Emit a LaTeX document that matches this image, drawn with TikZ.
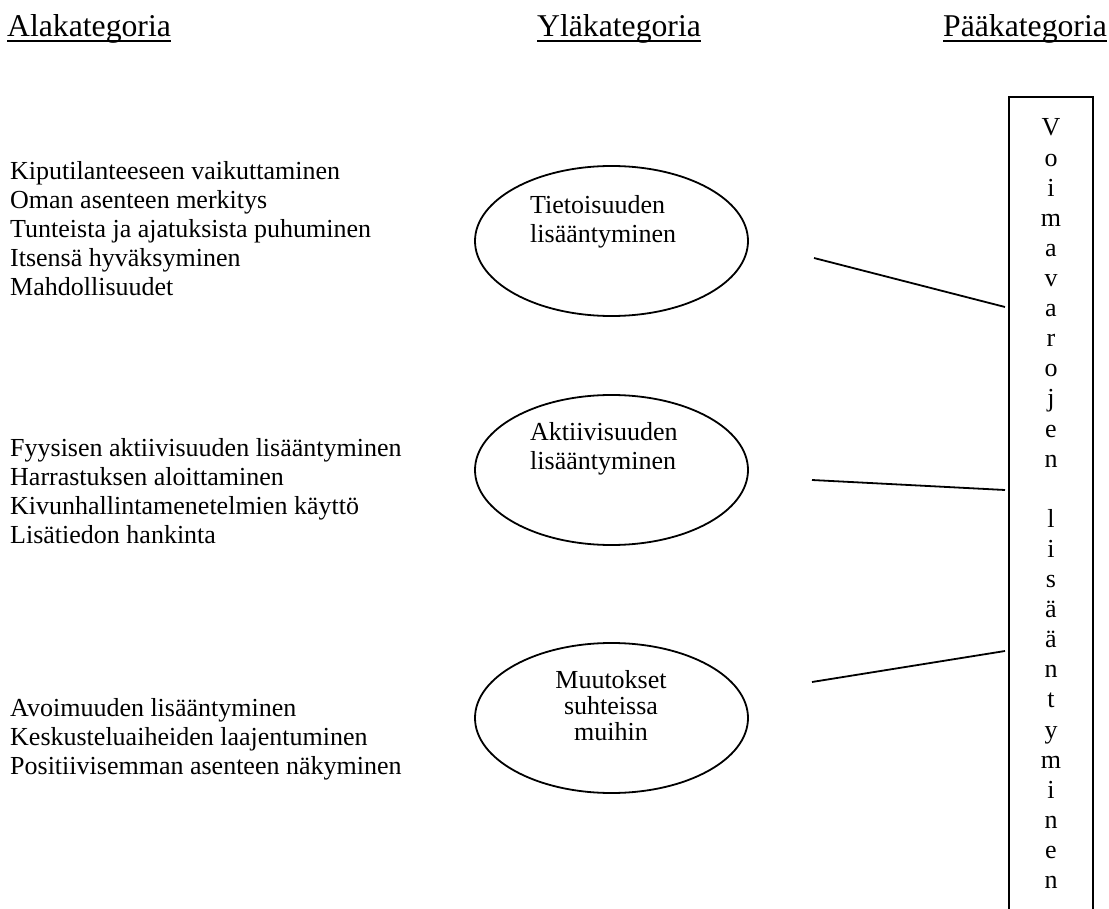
\documentclass[tikz,border=0pt]{standalone}
\usepackage{fontspec}
\setmainfont{Liberation Serif}
\usetikzlibrary{shapes.geometric}

\begin{document}
\begin{tikzpicture}[x=1pt,y=-1pt,
		txt/.style={inner sep=0pt, anchor=base west},
		category/.style={draw, ellipse, line width=1.8pt, minimum width=273pt, minimum height=150pt, inner sep=0pt},
		catline/.style={line width=1.8pt}]
		\newcommand{\myfontheader}[1]{%
			\fontsize{31.7}{36}\selectfont{#1}%
		}\newcommand{\myfonttext}[1]{%
			\fontsize{26}{29}\selectfont{#1}%
		}%Page frame
		\useasboundingbox (0,0) rectangle (1109,909);
		%Headers with their underlines
		\node [txt] (ala) at (7,37) {\myfontheader{Alakategoria}};
		\node [txt] (yla) at (537,37) {\myfontheader{Yläkategoria}};
		\node [txt] (paa) at (943,37) {\myfontheader{Pääkategoria}};
		\draw [line width=1.6pt] ([yshift=-4pt]ala.base west) -- ([yshift=-4pt]ala.base east);
		\draw [line width=1.6pt] ([yshift=-4pt]yla.base west) -- ([yshift=-4pt]yla.base east);
		\draw [line width=1.6pt] ([yshift=-4pt]paa.base west) -- ([yshift=-4pt]paa.base east);
		%Sub categories, first group
		\foreach \rivi [count=\k from 0] in {Kiputilanteeseen vaikuttaminen, Oman asenteen merkitys, Tunteista ja ajatuksista puhuminen, Itsensä hyväksyminen, Mahdollisuudet} {
			\node [txt] (tieto\k) at (10,180+29*\k) {\myfonttext{\rivi}};
		}
		%Sub categories, second group
		\foreach \rivi [count=\k from 0] in {Fyysisen aktiivisuuden lisääntyminen, Harrastuksen aloittaminen, Kivunhallintamenetelmien käyttö, Lisätiedon hankinta} {
			\node [txt] (aktiiv\k) at (10,456+29*\k) {\myfonttext{\rivi}};
		}
		%Sub categories, third group
		\foreach \rivi [count=\k from 0] in {Avoimuuden lisääntyminen, Keskusteluaiheiden laajentuminen, Positiivisemman asenteen näkyminen} {
			\node [txt] (suhde\k) at (10,716+29*\k) {\myfonttext{\rivi}};
		}
		%Upper categories
		\node [category] (ellTieto) at (611.5,241) {};
		\node [txt] (tietoA) at (530,214) {\myfonttext{Tietoisuuden}};
		\node [txt] (tietoB) at (530,243) {\myfonttext{lisääntyminen}};
		\node [category] (ellAktiiv) at (611.5,470) {};
		\node [txt] (aktiivA) at (530,440) {\myfonttext{Aktiivisuuden}};
		\node [txt] (aktiivB) at (530,469) {\myfonttext{lisääntyminen}};
		\node [category] (ellSuhde) at (611.5,718) {};
		\node [txt, anchor=base] (suhdeA) at (611,688) {\myfonttext{Muutokset}};
		\node [txt, anchor=base] (suhdeB) at (611,714) {\myfonttext{suhteissa}};
		\node [txt, anchor=base] (suhdeC) at (611,740) {\myfonttext{muihin}};
		%Lines towards the main category
		\coordinate (l1a) at (814,258);
		\coordinate (l1b) at (1005,307);
		\coordinate (l2a) at (812,480);
		\coordinate (l2b) at (1005,490);
		\coordinate (l3a) at (812,682);
		\coordinate (l3b) at (1005,651);
		\draw [catline] (l1a) -- (l1b);
		\draw [catline] (l2a) -- (l2b);
		\draw [catline] (l3a) -- (l3b);
		%Main category box, open at the bottom
		\coordinate (boxBL) at (1009,909);
		\coordinate (boxTL) at (1009,97);
		\coordinate (boxTR) at (1093,97);
		\coordinate (boxBR) at (1093,909);
		\draw [line width=1.8pt] (boxBL) -- (boxTL) -- (boxTR) -- (boxBR);
		%The vertical text
		\foreach \kirjain [count=\k from 0] in {V,o,i,m,a,v,a,r,o,j,e,n} {
			\node [txt, anchor=base] (voima\k) at (1051,136+30.1*\k) {\myfonttext{\kirjain}};
		}
		\foreach \kirjain [count=\k from 0] in {l,i,s,ä,ä,n,t,y,m,i,n,e,n} {
			\node [txt, anchor=base] (lisa\k) at (1051,136+30.1*13+30.1*\k) {\myfonttext{\kirjain}};
		}
\end{tikzpicture}
\end{document}
